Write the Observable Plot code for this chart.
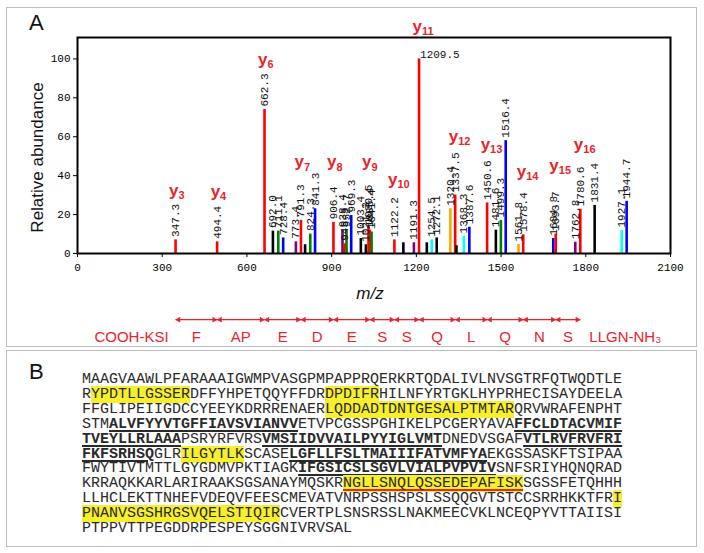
<!DOCTYPE html>
<html><head><meta charset="utf-8">
<script src="https://cdn.jsdelivr.net/npm/d3@7"></script>
<script src="https://cdn.jsdelivr.net/npm/@observablehq/plot@0.6"></script>
<style>
body{margin:0;background:#fff;}
#wrap{position:relative;width:704px;height:553px;overflow:hidden;font-family:"Liberation Sans",Arial,sans-serif;background:#fff;}
.box{position:absolute;border:1.5px solid #bdbdbd;box-sizing:border-box;}
.plab{position:absolute;font-size:22px;color:#111;font-family:"Liberation Sans",Arial,sans-serif;}
#chart{position:absolute;left:0;top:0;}
#seq{position:absolute;left:82px;top:373px;font-family:"Liberation Mono","Courier New",monospace;font-size:15px;line-height:14.9px;color:#2a2a2a;white-space:pre;}
.h{background:#f7ef2c;}
.t{font-weight:bold;text-decoration:underline;text-decoration-thickness:1.5px;text-underline-offset:2px;}
.r{background:#f7ef2c;text-decoration:underline;text-decoration-color:#e8242a;text-decoration-thickness:2px;text-underline-offset:2px;}
</style></head>
<body>
<div id="wrap">
  <div class="box" style="left:6px;top:7px;width:691px;height:340px;"></div>
  <div class="box" style="left:6px;top:350px;width:691px;height:197px;"></div>
  <div class="plab" style="left:29px;top:10px;">A</div>
  <div class="plab" style="left:29px;top:359px;">B</div>
  <div id="chart"></div>
  <div id="seq"></div>
</div>
<script>
// ---- Panel A data: MS/MS peaks ----
const peakMz = [347.3,494.4,662.3,692.0,711.1,728.4,773.4,791.3,806.0,824.3,841.3,906.4,938.4,945.3,952.7,969.3,1003.4,1021.3,1030.5,1035.4,1041.4,1122.2,1154.0,1191.3,1209.5,1237.0,1254.5,1272.1,1320.4,1337.5,1342.0,1368.3,1387.6,1450.6,1481.6,1499.3,1516.4,1561.8,1578.4,1684.8,1693.7,1762.8,1780.6,1831.4,1927.1,1944.7];
const peakIntensity = [7,6,74,11.5,11.5,8,6,17,4.5,10,23,16,12,5,12,19.5,7.7,4.5,13.5,12,11,7,5.5,5.5,100,5.5,7,8,23,30,4,8.8,13.5,26,12,17,58,4.6,9.6,7.7,10,5.8,22.7,24.7,11.8,26.8];
const peakGroup = ["red","red","red","black","green","blue","purple","red","black","green","blue","red","purple","red","green","blue","black","black","red","red","green","red","black","purple","red","black","cyan","black","orange","red","black","cyan","blue","red","black","green","blue","orange","red","blue","red","purple","red","black","cyan","blue"];
const peakLabel = ["347.3","494.4","662.3","692.0","711.1","728.4","773.4","791.3","","824.3","841.3","906.4","938.4","945.3","952.7","969.3","1003.4","1021.3","1030.5","1035.4","1041.4","1122.2","","1191.3","1209.5","","1254.5","1272.1","1320.4","1337.5","","1368.3","1387.6","1450.6","1481.6","1499.3","1516.4","1561.8","1578.4","1684.8","1693.7","1762.8","1780.6","1831.4","1927.1","1944.7"];

const groupNames = ["red","black","green","blue","purple","cyan","orange"];
const groupColors = ["#e8242a","#1a1a1a","#1f9a3c","#3f51a8","#b48ad2","#4fc1ef","#f2a12c"];

// y-ion annotations
const ionIndex = ["3","4","6","7","8","9","10","11","12","13","14","15","16"];
const ionMz = [347.3,494.4,662.3,791.3,906.4,1030.5,1122.2,1209.5,1337.5,1450.6,1578.4,1693.7,1780.6];
const ionLabelLevel = [32.5,32,99.5,47,47,47,38,116.5,60,56,42,45,56];

// sequence ladder
const ladderMz = [347.3,494.4,662.3,791.3,906.4,1035.4,1122.2,1209.5,1337.5,1450.6,1578.4,1693.7,1780.6];
const ladderResidues = ["F","AP","E","D","E","S","S","Q","L","Q","N","S"];
const ladderStart = "COOH-KSI";
const ladderEnd = "LLGN-NH\u2083";

const xTicks = [0,300,600,900,1200,1500,1800,2100];
const yTicks = [0,20,40,60,80,100];

// ---- Panel B data: protein sequence ----
const seqLines = [
 [["MAAGVAAWLPFARAAAIGWMPVASGPMPAPPRQERKRTQDALIVLNVSGTRFQTWQDTLE",""]],
 [["R",""],["YPDTLLGSSER","h"],["DFFYHPETQQYFFDR",""],["DPDIFR","h"],["HILNFYRTGKLHYPRHECISAYDEELA",""]],
 [["FFGLIPEIIGDCCYEEYKDRRRENAER",""],["LQDDADTDNTGESALPTMTAR","h"],["QRVWRAFENPHT",""]],
 [["STM",""],["ALVFYYVTGFFIAVSVIANVV","t"],["ETVPCGSSPGHIKELPCGERYAVA",""],["FFCLDTACVMIF","t"]],
 [["TVEYLLRLAAA","t"],["PSRYRFVRS",""],["VMSIIDVVAILPYYIGLVMT","t"],["DNEDVSGAF",""],["VTLRVFRVFRI","t"]],
 [["FKFSRHSQ","t"],["GLR",""],["ILGYTLK","h"],["SCASE",""],["LGFLLFSLTMAIIIFATVMFYA","t"],["EKGSSASKFTSIPAA",""]],
 [["FWYTIVTMTTLGYGDMVPKTIAGK",""],["IFGSICSLSGVLVIALPVPVIV","t"],["SNFSRIYHQNQRAD",""]],
 [["KRRAQKKARLARIRAAKSGSANAYMQSKR",""],["NGLLSNQLQSSEDEPAFISK","r"],["SGSSFETQHHH",""]],
 [["LLHCLEKTTNHEFVDEQVFEESCMEVATVNRPSSHSPSLSSQQGVTSTCCSRRHKKTFR",""],["I","h"]],
 [["PNANVSGSHRGSVQELSTIQIR","h"],["CVERTPLSNSRSSLNAKMEECVKLNCEQPYVTTAIISI",""]],
 [["PTPPVTTPEGDDRPESPEYSGGNIVRVSAL",""]]
];

// ---- build ----
const peaks = peakMz.map((mz,i)=>({mz, v:peakIntensity[i], g:peakGroup[i], label:peakLabel[i]}));
const ions = ionIndex.map((n,i)=>({n, mz:ionMz[i], ly:ionLabelLevel[i]}));
const segs = ladderResidues.map((r,i)=>({res:r, a:ladderMz[i], b:ladderMz[i+1]}));
const RED = "#e8242a";
const mono = "Liberation Mono, DejaVu Sans Mono, monospace";
const sans = "Liberation Sans, Arial, sans-serif";
const LADDER_Y = -34, LETTER_Y = -43;

const chart = Plot.plot({
  width: 704, height: 345,
  marginLeft: 77, marginRight: 34, marginTop: 37, marginBottom: 92,
  x: {domain:[0,2100]},
  y: {domain:[0,111]},
  color: {domain: groupNames, range: groupColors},
  style: {background:"transparent", fontFamily: sans},
  marks: [
    Plot.ruleX(peaks, {x:"mz", y1:0, y2:"v", stroke:"g", strokeWidth:2.6}),
    Plot.text(peaks.filter(d=>d.label && d.mz!==1209.5), {x:"mz", y:"v", text:"label", rotate:-90, textAnchor:"start", dy:-3, fontSize:11, fontFamily:mono, fill:"#111"}),
    Plot.text(peaks.filter(d=>d.mz===1209.5), {x:"mz", y:"v", text:"label", textAnchor:"start", lineAnchor:"bottom", dx:1, dy:-1, fontSize:11, fontFamily:mono, fill:"#111"}),
    Plot.frame({stroke:"#000", strokeWidth:2}),
    Plot.axisX({ticks:xTicks, tickFormat:d=>String(d), tickSize:4, tickPadding:6, fontSize:11, fontFamily:mono, label:null, stroke:"#000"}),
    Plot.axisY({ticks:yTicks, tickFormat:d=>String(d), tickSize:4, tickPadding:3, fontSize:11, fontFamily:mono, label:null}),
    Plot.text(["Relative abundance"], {frameAnchor:"left", textAnchor:"middle", lineAnchor:"middle", rotate:-90, dx:-40, dy:12, fontSize:17, fontFamily:sans, fill:"#111"}),
    Plot.text(["m/z"], {frameAnchor:"bottom", textAnchor:"middle", lineAnchor:"middle", dy:40, dx:-4, fontSize:17, fontStyle:"italic", fontFamily:sans, fill:"#111"}),
    Plot.text(ions, {x:"mz", y:"ly", text:()=>"y", textAnchor:"end", dx:3, fontSize:17, fontWeight:"bold", fill:RED}),
    Plot.text(ions, {x:"mz", y:"ly", text:"n", textAnchor:"start", dx:3, dy:5, fontSize:11, fontWeight:"bold", fill:RED}),
    Plot.link(segs, {x1:"a", x2:"b", y1:LADDER_Y, y2:LADDER_Y, stroke:RED, strokeWidth:1.3}),
    Plot.dot(segs, {x:"a", y:LADDER_Y, symbol:"triangle2", r:2.8, fill:RED, stroke:"none", rotate:-90, dx:3}),
    Plot.dot(segs, {x:"b", y:LADDER_Y, symbol:"triangle2", r:2.8, fill:RED, stroke:"none", rotate:90, dx:-3}),
    Plot.text(segs, {x:d=>(d.a+d.b)/2, y:LETTER_Y, text:"res", fontSize:15, fill:RED, fontFamily:sans}),
    Plot.text([ladderStart], {x:ladderMz[0], y:LETTER_Y, text:d=>d, textAnchor:"end", dx:-7, fontSize:15, fill:RED, fontFamily:sans}),
    Plot.text([ladderEnd], {x:ladderMz[ladderMz.length-1], y:LETTER_Y, text:d=>d, textAnchor:"start", dx:9, fontSize:15, fill:RED, fontFamily:sans})
  ]
});
document.getElementById("chart").appendChild(chart);

const seqDiv = document.getElementById("seq");
seqDiv.innerHTML = seqLines.map(line => line.map(([txt,cls]) => cls ? `<span class="${cls}">${txt}</span>` : txt).join("")).join("\n");
</script>
</body></html>
